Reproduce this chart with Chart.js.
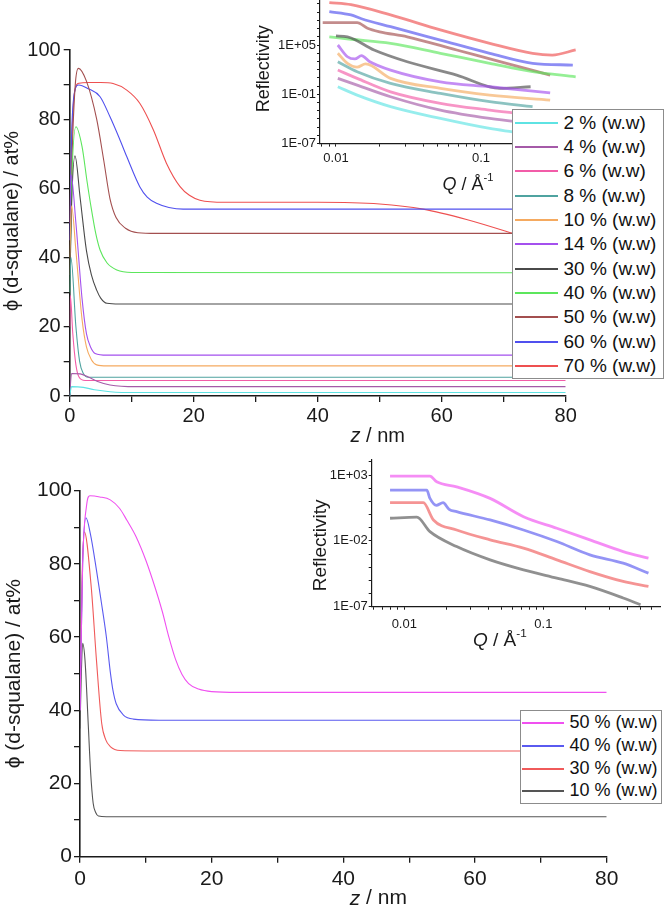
<!DOCTYPE html>
<html>
<head>
<meta charset="utf-8">
<script src="https://cdn.jsdelivr.net/npm/chart.js@4.4.1/dist/chart.umd.min.js"></script>
<style>
body { margin: 0; background: #fff; }
#fig { position: relative; width: 666px; height: 920px; overflow: hidden; font-family: "Liberation Sans", Arial, sans-serif; }
canvas { position: absolute; }
.legend { position: absolute; background: #fff; border: 1.5px solid #8c8c8c; box-sizing: border-box; color: #111; }
.legend .row { position: absolute; left: 0; white-space: nowrap; }
.legend .swatch { position: absolute; height: 2px; }
</style>
</head>
<body>
<div id="fig">
  <canvas id="topMain" width="666" height="460" style="left:0;top:0"></canvas>
  <canvas id="topInset" width="380" height="230" style="left:230px;top:-20px"></canvas>
  <canvas id="botMain" width="666" height="460" style="left:0;top:460px"></canvas>
  <canvas id="botInset" width="386" height="220" style="left:280px;top:440px"></canvas>
  <div id="topLegend" class="legend" style="left:512px;top:109px;width:152px;height:270px;font-size:19px"></div>
  <div id="botLegend" class="legend" style="left:520px;top:710px;width:142px;height:94px;font-size:18px"></div>
</div>
<script>
const FONT = '"Liberation Sans", Arial, sans-serif';
const INK = "#1a1a1a";

// ---- tick labels ----
const zTickLabels = ["0", "20", "40", "60", "80"];
const phiTickLabels = ["0", "20", "40", "60", "80", "100"];
const qTickLabels = ["0.01", "0.1"];
const topRTickLabels = ["1E+05", "1E-01", "1E-07"];
const botRTickLabels = ["1E+03", "1E-02", "1E-07"];

// ---- top panel: volume fraction profiles ----
const topLabels = ["2 % (w.w)", "4 % (w.w)", "6 % (w.w)", "8 % (w.w)", "10 % (w.w)", "14 % (w.w)",
                   "30 % (w.w)", "40 % (w.w)", "50 % (w.w)", "60 % (w.w)", "70 % (w.w)"];
const topColors = ["#5ee3e3", "#a55aa8", "#f25ca8", "#4fa3a0", "#f5aa60", "#a450ee",
                   "#4a4a4a", "#5ce65c", "#a34f4f", "#5050ee", "#ee5050"];

const z02 = [0, 0.3, 2.2, 4, 6.5, 10.6, 80];
const phi02 = [0, 2.7, 2.5, 1.8, 1.25, 1.0, 1.0];
const z04 = [0, 0.3, 1.7, 3, 4.5, 6.5, 10.6, 80];
const phi04 = [0, 6.5, 6.4, 5.5, 4.2, 3.2, 2.7, 2.7];
const z06 = [0, 0.1, 0.5, 1.0, 1.5, 2.5, 80];
const phi06 = [20, 29, 18, 9, 5.5, 4.5, 4.5];
const z08 = [0, 0.2, 1.0, 1.6, 2.2, 3, 80];
const phi08 = [30, 40, 20, 10, 6.5, 5.4, 5.4];
const z10 = [0, 0.3, 1.0, 2.0, 2.7, 3.5, 4.35, 6, 80];
const phi10 = [40, 55, 42, 22, 14.2, 10.5, 9, 8.7, 8.7];
const z14 = [0, 0.2, 1.0, 2.0, 2.7, 3.4, 4.1, 6, 80];
const phi14 = [45, 64, 50, 28, 18, 14, 12.3, 11.8, 11.8];
const z30 = [0, 0.3, 0.85, 1.7, 2.7, 3.5, 4.35, 5, 6, 8, 80];
const phi30 = [30, 55, 69.4, 57, 42, 35, 30.6, 28.3, 26.8, 26.6, 26.6];
const z40 = [0, 0.3, 1.0, 2.0, 2.8, 3.5, 4.2, 4.9, 6, 7.6, 10, 80];
const phi40 = [30, 60, 77.8, 72, 62, 54, 47, 42.2, 38.5, 36.4, 35.7, 35.6];
const z50 = [0, 0.4, 0.9, 1.4, 2.7, 4.35, 5.5, 6.5, 7.5, 9, 11, 14, 80];
const phi50 = [35, 70, 90, 94.7, 91, 80, 68, 57, 51.5, 48.5, 47.2, 47, 47];
const z60 = [0, 0.3, 0.8, 1.45, 3, 4.9, 6.5, 8, 9.2, 11.3, 12.5, 14, 16, 18.3, 25, 80];
const phi60 = [45, 75, 88, 89.9, 88.8, 86.5, 80.7, 74.5, 69.2, 60.5, 57.5, 55.7, 54.5, 54, 54, 54];
const z70 = [0, 0.3, 0.8, 1.5, 3, 5, 7, 9.2, 11.3, 13.5, 15.6, 17.8, 19.3, 21, 25, 40, 50, 57, 64, 71.4, 80];
const phi70 = [50, 72, 88, 90.4, 90.6, 90.6, 90.3, 88.4, 84.6, 76.9, 67.3, 60.5, 58, 56.6, 56, 56, 55.5, 54, 51, 47, 42];

const topZ = [z02, z04, z06, z08, z10, z14, z30, z40, z50, z60, z70];
const topPhi = [phi02, phi04, phi06, phi08, phi10, phi14, phi30, phi40, phi50, phi60, phi70];

// ---- top inset: reflectivity, log10(R) against Q ----
const tq02 = [0.0103, 0.014, 0.0238, 0.0525, 0.115, 0.165];
const tr02 = [-0.08, -1.1, -2.5, -3.94, -5.16, -5.57];
const tq04 = [0.0103, 0.014, 0.0238, 0.0525, 0.115, 0.227];
const tr04 = [0.94, 0.12, -1.3, -2.93, -3.94, -4.55];
const tq06 = [0.0103, 0.014, 0.0238, 0.0525, 0.115, 0.227];
const tr06 = [1.95, 0.94, -0.7, -2.1, -2.93, -3.54];
const tq08 = [0.0103, 0.014, 0.0238, 0.0525, 0.115, 0.227];
const tr08 = [2.96, 1.75, 0.33, -0.89, -1.9, -2.5];
const tq10 = [0.0103, 0.012, 0.014, 0.016, 0.0238, 0.0525, 0.115, 0.3];
const tr10 = [3.99, 2.77, 2.3, 2.7, 0.94, -0.28, -1.1, -1.7];
const tq14 = [0.0103, 0.012, 0.0135, 0.015, 0.017, 0.0238, 0.0525, 0.115, 0.3];
const tr14 = [5.0, 3.57, 3.3, 3.7, 3.0, 1.95, 0.52, -0.08, -0.82];
const tq30 = [0.01, 0.012, 0.0183, 0.031, 0.068, 0.135, 0.22];
const tr30 = [6.1, 6.0, 4.39, 2.96, 1.34, -0.28, -0.08];
const tq40 = [0.009, 0.0127, 0.0238, 0.0525, 0.115, 0.227, 0.45];
const tr40 = [6.0, 5.7, 5.2, 3.99, 2.77, 1.75, 1.13];
const tq50 = [0.0081, 0.014, 0.0165, 0.02, 0.031, 0.068, 0.15, 0.3];
const tr50 = [7.72, 7.72, 7.03, 6.6, 6.0, 4.39, 2.77, 1.34];
const tq60 = [0.009, 0.0127, 0.015, 0.0238, 0.0525, 0.115, 0.227, 0.43];
const tr60 = [9.06, 8.66, 8.2, 7.23, 5.6, 3.99, 2.77, 2.56];
const tq70 = [0.009, 0.0127, 0.0238, 0.0525, 0.115, 0.227, 0.31, 0.45];
const tr70 = [10.16, 9.9, 8.66, 6.83, 5.2, 3.99, 3.78, 4.4];

const topQ = [tq02, tq04, tq06, tq08, tq10, tq14, tq30, tq40, tq50, tq60, tq70];
const topLogR = [tr02, tr04, tr06, tr08, tr10, tr14, tr30, tr40, tr50, tr60, tr70];

// ---- bottom panel: volume fraction profiles ----
const botLabels = ["50 % (w.w)", "40 % (w.w)", "30 % (w.w)", "10 % (w.w)"];
const botColors = ["#f050f0", "#5a5af0", "#f05a5a", "#555555"];

const bz50 = [0, 0.4, 1.0, 1.5, 3, 4.6, 6, 7.1, 8.5, 10, 11.5, 12.5, 13.5, 14.5, 15.5, 16.5, 18, 20, 24, 80];
const bphi50 = [40, 80, 96, 98.6, 98.3, 97.5, 95.2, 92, 87.5, 81, 73, 67, 60, 54, 49.8, 47.3, 45.8, 45.1, 44.9, 44.9];
const bz40 = [0, 0.4, 0.9, 1.6, 2.5, 3.2, 4.0, 4.6, 5.0, 5.5, 6.6, 8.1, 12, 80];
const bphi40 = [40, 80, 92.6, 88, 78.3, 70, 60.1, 50.5, 45.5, 41.8, 38.7, 37.6, 37.3, 37.3];
const bz30 = [0, 0.3, 0.66, 1.7, 2.5, 3.3, 3.9, 4.6, 6.1, 10, 80];
const bphi30 = [40, 75, 88.8, 73.8, 53.7, 36.4, 32, 30.1, 29, 28.9, 28.9];
const bz10 = [0, 0.2, 0.4, 0.76, 1.27, 1.6, 2.0, 2.4, 2.8, 4, 80];
const bphi10 = [35, 50, 58.3, 53.7, 35.5, 23.5, 14.6, 12, 11.1, 10.9, 10.9];

const botZ = [bz50, bz40, bz30, bz10];
const botPhi = [bphi50, bphi40, bphi30, bphi10];

// ---- bottom inset ----
const bq50 = [0.0079, 0.0153, 0.0171, 0.0238, 0.0414, 0.072, 0.125, 0.216, 0.375, 0.57];
const br50 = [2.92, 2.92, 2.49, 2.11, 1.23, -0.16, -1.04, -1.92, -2.81, -3.31];
const bq40 = [0.0079, 0.0145, 0.0153, 0.017, 0.019, 0.021, 0.0238, 0.0414, 0.072, 0.125, 0.216, 0.375, 0.57];
const br40 = [1.86, 1.86, 1.23, 0.7, 0.9, 0.4, 0.22, -0.41, -1.17, -2.05, -3.06, -3.69, -4.45];
const bq30 = [0.0079, 0.0137, 0.0162, 0.0238, 0.0414, 0.072, 0.125, 0.216, 0.375, 0.57];
const br30 = [0.9, 0.9, -0.41, -1.17, -1.92, -2.55, -3.44, -4.33, -5.08, -5.46];
const bq10 = [0.0079, 0.0123, 0.0153, 0.0238, 0.0414, 0.072, 0.125, 0.216, 0.375, 0.5];
const br10 = [-0.28, -0.2, -1.3, -2.43, -3.44, -4.2, -4.83, -5.46, -6.34, -6.85];

const botQ = [bq50, bq40, bq30, bq10];
const botLogR = [br50, br40, br30, br10];

// ---- helpers ----
function fade(hex, a) {
    const n = parseInt(hex.slice(1), 16);
    return "rgba(" + (n >> 16) + "," + ((n >> 8) & 255) + "," + (n & 255) + "," + a + ")";
}

function profileSets(labels, colors, zs, phis) {
    return labels.map((l, i) => ({
        label: l,
        borderColor: colors[i],
        backgroundColor: colors[i],
        data: zs[i].map((z, j) => ({ x: z, y: phis[i][j] })),
        borderWidth: 1.1,
        pointRadius: 0,
        cubicInterpolationMode: "monotone",
        fill: false
    }));
}

function reflSets(colors, qs, logs) {
    return colors.map((c, i) => ({
        borderColor: fade(c, 0.65),
        data: qs[i].map((q, j) => ({ x: q, y: Math.pow(10, logs[i][j]) })),
        borderWidth: 2.8,
        pointRadius: 0,
        cubicInterpolationMode: "monotone",
        fill: false
    }));
}

function eLabel(v) {
    const e = Math.round(Math.log10(v));
    return "1E" + (e < 0 ? "-" : "+") + String(Math.abs(e)).padStart(2, "0");
}

function qLabel(v) {
    return String(parseFloat(v.toPrecision(2)));
}

// axis titles drawn on the canvas, italic symbol + upright unit
function axisTitles(cfg) {
    return {
        id: "axisTitles",
        afterDraw(chart) {
            const ctx = chart.ctx;
            const a = chart.chartArea;
            ctx.save();
            ctx.fillStyle = INK;
            ctx.textBaseline = "middle";
            ctx.textAlign = "left";
            const fontOf = p => (p.it ? "italic " : "") + (p.sup ? cfg.size * 0.62 : cfg.size) + "px " + FONT;
            const widths = cfg.x.map(p => { ctx.font = fontOf(p); return ctx.measureText(p.t).width; });
            let x = (a.left + a.right) / 2 + cfg.dx - widths.reduce((s, w) => s + w, 0) / 2;
            const y = a.bottom + cfg.dy;
            cfg.x.forEach((p, i) => {
                ctx.font = fontOf(p);
                ctx.fillText(p.t, x, y - (p.sup ? cfg.size * 0.38 : 0));
                x += widths[i];
            });
            ctx.translate(a.left + cfg.ydx, (a.top + a.bottom) / 2 + cfg.ydy);
            ctx.rotate(-Math.PI / 2);
            ctx.textAlign = "center";
            ctx.font = cfg.size + "px " + FONT;
            ctx.fillText(cfg.y, 0, 0);
            ctx.restore();
        }
    };
}

function mainOptions(c) {
    const axisFont = { family: FONT, size: c.fs };
    return {
        responsive: false,
        animation: false,
        events: [],
        layout: { padding: { left: 0, top: c.top, right: c.right, bottom: 0 } },
        plugins: { legend: { display: false }, tooltip: { enabled: false } },
        scales: {
            x: {
                type: "linear", min: 0, max: 80,
                afterFit(s) { s.height = c.xh; },
                ticks: {
                    stepSize: 10, autoSkip: false, maxRotation: 0, padding: c.xpad, color: INK, font: axisFont,
                    callback: v => zTickLabels.includes(String(v)) ? String(v) : ""
                },
                grid: { drawOnChartArea: false, tickLength: 6, color: INK, lineWidth: 1.3 },
                border: { color: INK, width: 1.6 }
            },
            y: {
                type: "linear", min: 0, max: 100,
                afterFit(s) { s.width = c.yw; },
                ticks: {
                    stepSize: 10, autoSkip: false, padding: c.ypad, color: INK, font: axisFont,
                    callback: v => phiTickLabels.includes(String(v)) ? String(v) : ""
                },
                grid: { drawOnChartArea: false, tickLength: 6, color: INK, lineWidth: 1.3 },
                border: { color: INK, width: 1.6 }
            }
        }
    };
}

function insetOptions(c) {
    const tickFont = { family: FONT, size: 13 };
    return {
        responsive: false,
        animation: false,
        events: [],
        layout: { padding: { left: 0, top: 20, right: c.right, bottom: 0 } },
        plugins: { legend: { display: false }, tooltip: { enabled: false } },
        scales: {
            x: {
                type: "logarithmic", min: c.qmin, max: c.qmax,
                afterFit(s) { s.height = c.xh; },
                afterBuildTicks(s) {
                    const t = [];
                    for (let e = -3; e <= 0; e++) {
                        for (let m = 1; m <= 9; m++) {
                            const v = parseFloat((m * Math.pow(10, e)).toPrecision(3));
                            if (v >= c.qmin && v <= c.qmax) t.push({ value: v });
                        }
                    }
                    s.ticks = t;
                },
                ticks: {
                    autoSkip: false, maxRotation: 0, padding: c.xpad, color: INK, font: tickFont,
                    callback: v => qTickLabels.includes(qLabel(v)) ? qLabel(v) : ""
                },
                grid: { drawOnChartArea: false, tickLength: 3, color: INK, lineWidth: 1 },
                border: { color: INK, width: 1.2 }
            },
            y: {
                type: "logarithmic", min: c.rmin, max: c.rmax,
                afterFit(s) { s.width = c.yw; },
                afterBuildTicks(s) {
                    const t = [];
                    for (let e = Math.ceil(Math.log10(c.rmin)); e <= Math.floor(Math.log10(c.rmax)); e++) {
                        t.push({ value: parseFloat("1e" + e) });
                    }
                    s.ticks = t;
                },
                ticks: {
                    autoSkip: false, padding: 1, color: INK, font: tickFont,
                    callback: v => c.yLabels.includes(eLabel(v)) ? eLabel(v) : ""
                },
                grid: { drawOnChartArea: false, tickLength: 3, color: INK, lineWidth: 1 },
                border: { color: INK, width: 1.2 }
            }
        }
    };
}

// legend rows placed on whole pixels so the thin sample lines stay crisp
function buildLegend(el, chart, c) {
    chart.data.datasets.forEach((ds, i) => {
        const top = Math.round(c.padTop + i * c.rowH);
        const h = Math.round(c.rowH);
        const row = document.createElement("div");
        row.className = "row";
        row.style.top = top + "px";
        row.style.height = h + "px";
        row.style.lineHeight = h + "px";
        row.style.paddingLeft = c.textX + "px";
        const sw = document.createElement("span");
        sw.className = "swatch";
        sw.style.top = (Math.round(h / 2) - 1) + "px";
        sw.style.left = c.swX + "px";
        sw.style.width = c.swW + "px";
        sw.style.background = ds.borderColor;
        row.appendChild(sw);
        row.appendChild(document.createTextNode(ds.label));
        el.appendChild(row);
    });
}

const phiTitle = "\u03d5 (d-squalane) / at%";
const zTitle = [{ t: "z", it: true }, { t: " / nm" }];
const qTitle = [{ t: "Q", it: true }, { t: " / \u00c5" }, { t: "-1", sup: true }];

// ---- top main chart ----
const topChart = new Chart(document.getElementById("topMain"), {
    type: "line",
    data: { datasets: profileSets(topLabels, topColors, topZ, topPhi) },
    options: mainOptions({ top: 50, right: 100.3, xh: 64, yw: 69.7, fs: 20, xpad: 2, ypad: 3 }),
    plugins: [axisTitles({ x: zTitle, y: phiTitle, size: 20, dx: 60, dy: 40, ydx: -57, ydy: -2 })]
});

// ---- top inset ----
new Chart(document.getElementById("topInset"), {
    type: "line",
    data: { datasets: reflSets(topColors, topQ, topLogR) },
    options: insetOptions({ qmin: 0.00776, qmax: 0.565, rmin: 1e-7, rmax: 3e10, yLabels: topRTickLabels,
                            right: 20, xh: 66.4, yw: 90, xpad: 4 }),
    plugins: [axisTitles({ x: qTitle, y: "Reflectivity", size: 18, dx: 13, dy: 41, ydx: -56, ydy: -3 })]
});

// ---- bottom main chart ----
const botChart = new Chart(document.getElementById("botMain"), {
    type: "line",
    data: { datasets: profileSets(botLabels, botColors, botZ, botPhi) },
    options: mainOptions({ top: 30.7, right: 59.3, xh: 63.3, yw: 80, fs: 21, xpad: 4, ypad: 2 }),
    plugins: [axisTitles({ x: zTitle, y: phiTitle, size: 21, dx: 35, dy: 42, ydx: -65.5, ydy: 0 })]
});

// ---- bottom inset ----
new Chart(document.getElementById("botInset"), {
    type: "line",
    data: { datasets: reflSets(botColors, botQ, botLogR) },
    options: insetOptions({ qmin: 0.00583, qmax: 0.69, rmin: 1e-7, rmax: 1.4e4, yLabels: botRTickLabels,
                            right: 6, xh: 53.3, yw: 91.7, xpad: 7 }),
    plugins: [axisTitles({ x: qTitle, y: "Reflectivity", size: 19, dx: -16, dy: 34, ydx: -50.7, ydy: 12 })]
});

buildLegend(document.getElementById("topLegend"), topChart, { padTop: 0.8, rowH: 24.3, swX: 1.5, swW: 43, textX: 50.5 });
buildLegend(document.getElementById("botLegend"), botChart, { padTop: 0, rowH: 22.8, swX: 1, swW: 42, textX: 48.5 });
</script>
</body>
</html>
